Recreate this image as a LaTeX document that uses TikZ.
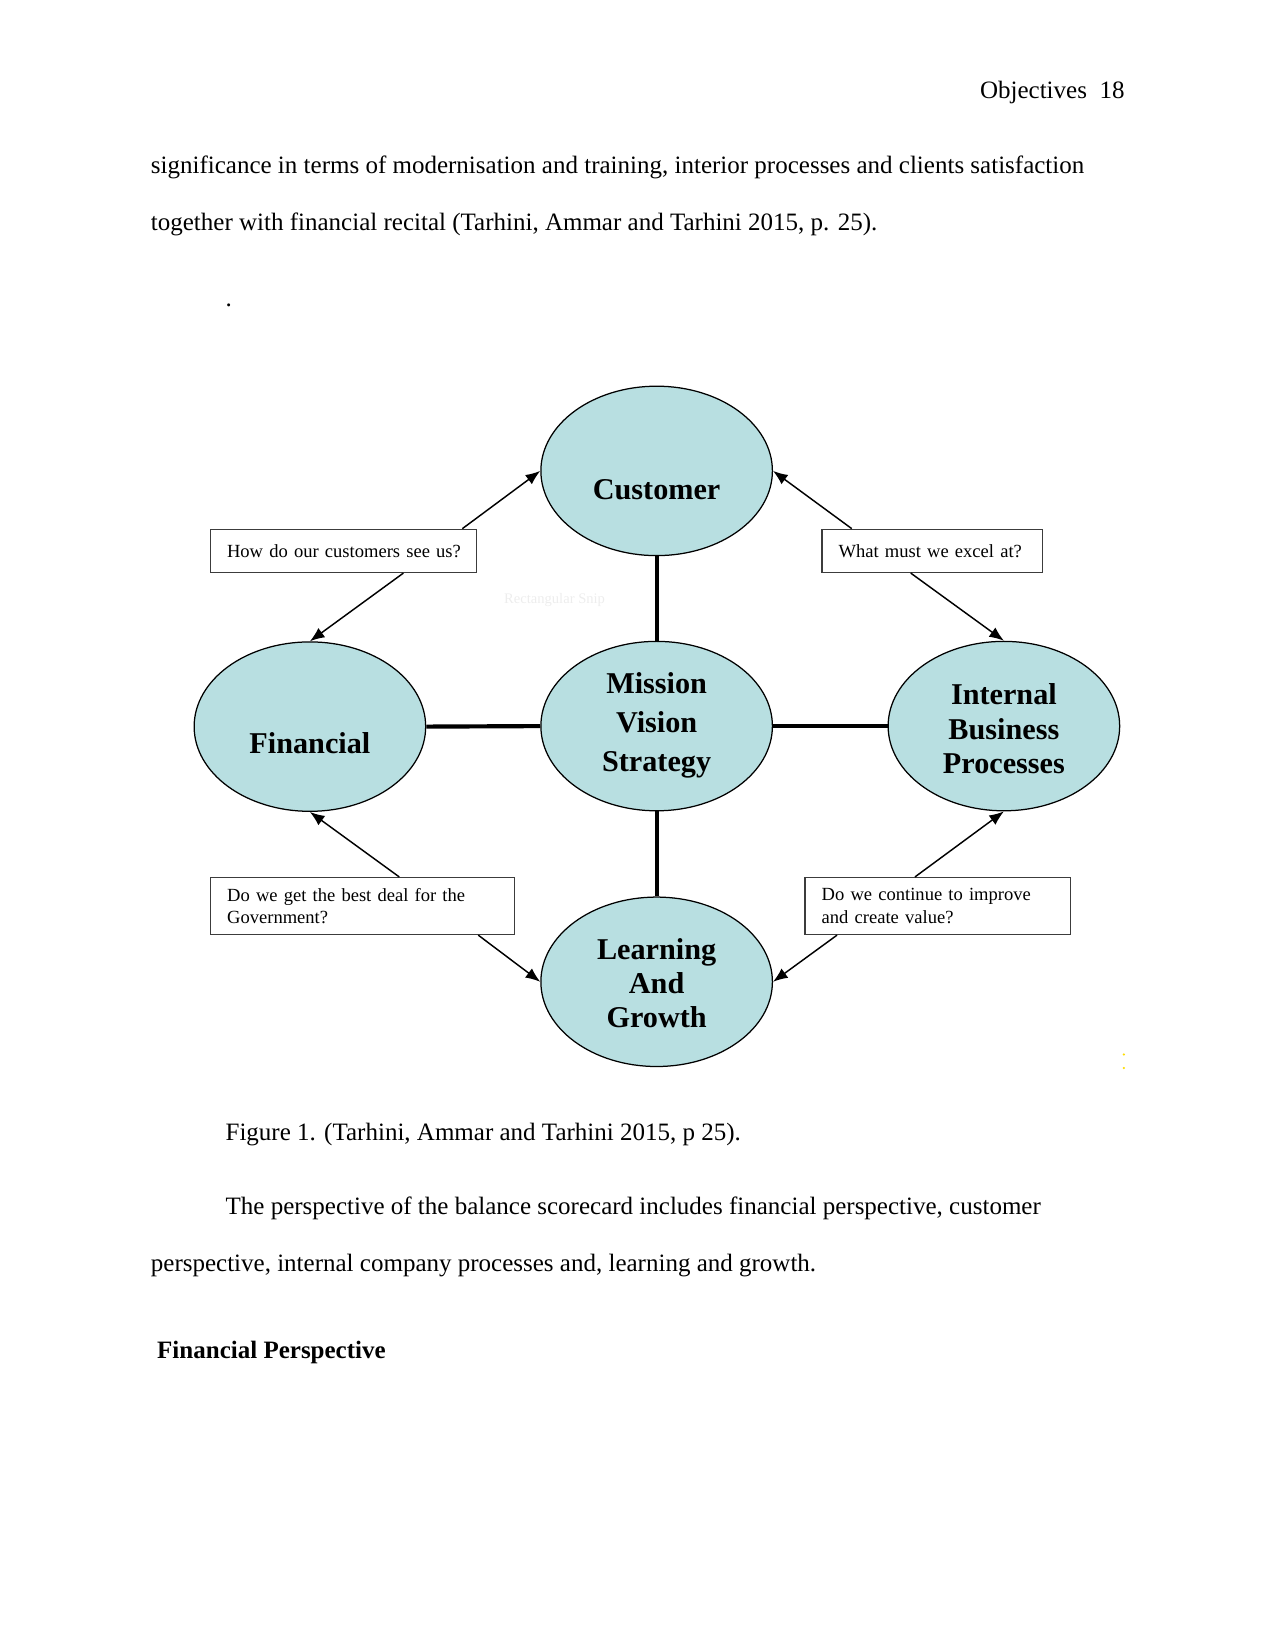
\documentclass[tikz,border=0pt]{standalone}
\usepackage{fontspec}
\setmainfont{Liberation Serif}
\usetikzlibrary{shapes.geometric,arrows.meta,calc}
\definecolor{bscfill}{RGB}{184,223,225}
\definecolor{boxline}{RGB}{60,60,60}
\begin{document}
\begin{tikzpicture}[x=0.50495pt,y=-0.50495pt,
  persp/.style={ellipse, draw=black, line width=0.6pt, fill=bscfill,
    minimum width=111.1pt, minimum height=81.3pt, inner sep=0pt},
  plabel/.style={font=\fontsize{14.5}{16.4}\selectfont\bfseries, align=center, inner sep=0pt},
  qbox/.style={draw=boxline, line width=0.6pt, inner xsep=8pt, inner ysep=0pt,
    font=\fontsize{8.9}{10.6}\selectfont, align=left},
  link/.style={line width=2pt},
  qarrow/.style={line width=0.7pt, -{Latex[length=7pt,width=5.5pt]}},
  body/.style={font=\fontsize{12}{14}\selectfont, inner sep=0pt, anchor=base west}
]
\useasboundingbox (0,0) rectangle (1212,1568);

% page text
\node[body, anchor=base east] (hdr) at (1069,94) {Objectives\ \ 18};
\node[body] (l1) at (143,165) {significance in terms of modernisation and training, interior processes and clients satisfaction};
\node[body] (l2) at (143,219) {together with financial recital (Tarhini, Ammar and Tarhini 2015, p. 25).};
\node[body] (dot) at (214,291) {.};
\node[body] (cap) at (214,1084) {Figure 1. (Tarhini, Ammar and Tarhini 2015, p 25).};
\node[body] (p1) at (214,1154) {The perspective of the balance scorecard includes financial perspective, customer};
\node[body] (p2) at (143,1208) {perspective, internal company processes and, learning and growth.};
\node[body, font=\fontsize{12}{14}\selectfont\bfseries] (fp) at (149,1291) {Financial Perspective};

% faint watermark
\node[font=\fontsize{7}{8}\selectfont, text=black!7, inner sep=0pt] (snip) at (527,570) {Rectangular Snip};

% ellipses
\node[persp] (cust) at (624,447.5) {};
\node[persp] (miss) at (624,690) {};
\node[persp] (fin)  at (294.5,690.5) {};
\node[persp] (ibp)  at (954,690) {};
\node[persp] (lrn)  at (624,933) {};

\node[plabel] (custt) at (624,465) {Customer};
\node[plabel, font=\fontsize{14.5}{18.7}\selectfont\bfseries] (misst) at (624,689) {Mission\\Vision\\Strategy};
\node[plabel] (fint) at (294.5,706) {Financial};
\node[plabel] (ibpt) at (954,692.5) {Internal\\Business\\Processes};
\node[plabel] (lrnt) at (624,934.5) {Learning\\And\\Growth};

% thick links
\draw[link] (cust.south) -- (miss.north);
\draw[link] (miss.south) -- (lrn.north);
\draw[link] (fin.east) -- (miss.west);
\draw[link] (miss.east) -- (ibp.west);

% question boxes
\node[qbox, minimum width=127.8pt, minimum height=20.7pt, text width=111.8pt] (b1) at (326.5,523.5) {\mbox{How do our customers see us?}};
\node[qbox, minimum width=106pt, minimum height=20.7pt, text width=90pt] (b2) at (886,523.5) {\mbox{What must we excel at?}};
\node[qbox, minimum width=145.9pt, minimum height=27.3pt, text width=129.9pt] (b3) at (344.5,861) {Do we get the best deal for the\\Government?};
\node[qbox, minimum width=127.2pt, minimum height=27.3pt, text width=111.2pt] (b4) at (891,861) {Do we continue to improve\\and create value?};

% arrows
\draw[qarrow] ($(b1.north west)+(240,0)$) -- (cust.west);
\draw[qarrow] ($(b1.south west)+(184,0)$) -- (fin.north);
\draw[qarrow] ($(b2.north west)+(29,0)$) -- (cust.east);
\draw[qarrow] ($(b2.south west)+(85,0)$) -- (ibp.north);
\draw[qarrow] ($(b3.north west)+(180,0)$) -- (fin.south);
\draw[qarrow] ($(b3.south west)+(255,0)$) -- (lrn.west);
\draw[qarrow] ($(b4.north west)+(105,0)$) -- (ibp.south);
\draw[qarrow] ($(b4.south west)+(31,0)$) -- (lrn.east);

% tiny yellow marks
\fill[yellow!80!orange] (1068,1002) circle (0.6pt);
\fill[yellow!80!orange] (1068,1015) circle (0.6pt);
\end{tikzpicture}
\end{document}
